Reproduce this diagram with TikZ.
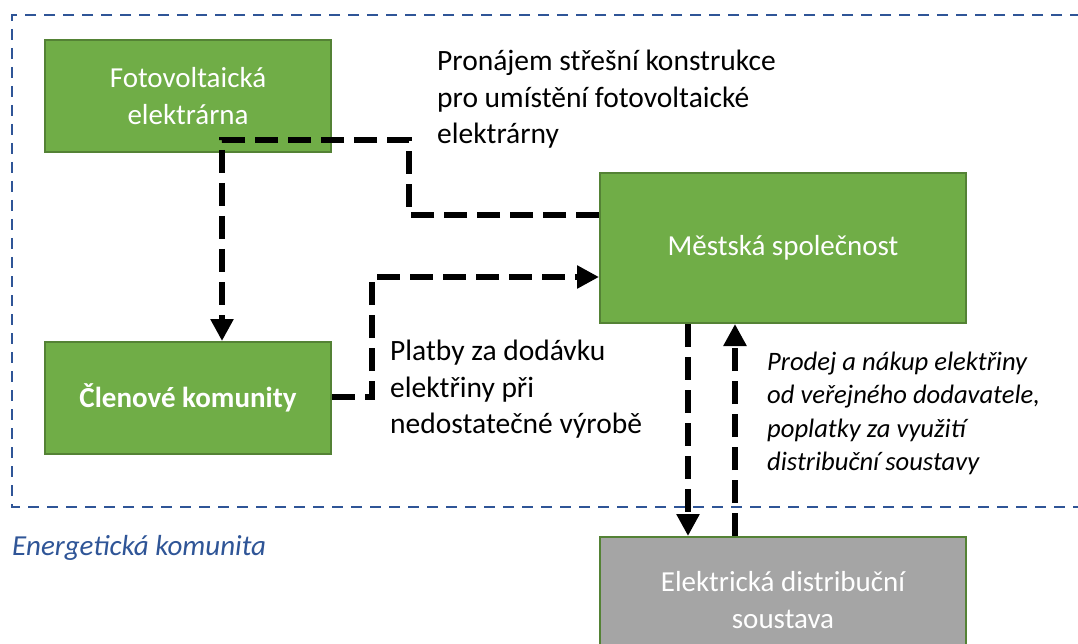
\documentclass[tikz,border=0pt]{standalone}
\usepackage{fontspec}
\setmainfont{Carlito}
\usetikzlibrary{arrows.meta}
\definecolor{boxgreen}{HTML}{70AD47}
\definecolor{boxedge}{HTML}{548235}
\definecolor{boxgray}{HTML}{A5A5A5}
\definecolor{borderblue}{HTML}{2F5597}
\tikzset{
  gbox/.style={draw=boxedge, line width=2pt, fill=boxgreen, text=white, align=center,
    inner sep=0pt, font=\fontsize{29}{36.5}\selectfont},
  graybox/.style={gbox, fill=boxgray},
  flow/.style={line width=6.5pt, dash pattern=on 23pt off 10pt},
  tip/.style={-{Triangle[length=22pt,width=22pt]}},
  lbl/.style={align=left, inner sep=0pt, anchor=north west, font=\fontsize{29.5}{36.5}\selectfont},
  ilbl/.style={align=left, inner sep=0pt, anchor=north west, font=\fontsize{26.6}{33.3}\selectfont\itshape},
  community/.style={draw=borderblue, line width=2pt, dash pattern=on 11pt off 8pt}
}
\begin{document}
\begin{tikzpicture}[x=1pt,y=-1pt]
\useasboundingbox (0,0) rectangle (1078,644);
\clip (0,0) rectangle (1078,644);
\fill[white] (0,0) rectangle (1078,644);
% community border
\draw[community] (1100,15) -- (12,15) -- (12,507) -- (1100,507);
\node[text=borderblue, anchor=north west, inner sep=0pt, font=\fontsize{29}{35}\selectfont\itshape] (ek) at (12,535) {Energetická komunita};
% boxes
\node[gbox, minimum width=286pt, minimum height=112pt] (fve) at (188,96) {Fotovoltaická\\elektrárna};
\node[gbox, minimum width=286pt, minimum height=112pt, font=\fontsize{29}{36.5}\selectfont\bfseries] (clen) at (188,398) {Členové komunity};
\node[gbox, minimum width=366pt, minimum height=150pt] (mesto) at (783,248) {Městská společnost};
\node[graybox, minimum width=366pt, minimum height=126pt] (ds) at (783,600) {Elektrická distribuční\\soustava};
% labels
\node[lbl] (t1) at (437,50) {Pronájem střešní konstrukce\\pro umístění fotovoltaické\\elektrárny};
\node[lbl] (t2) at (390,340) {Platby za dodávku\\elektřiny při\\nedostatečné výrobě};
\node[ilbl] (t3) at (767,352) {Prodej a nákup elektřiny\\od veřejného dodavatele,\\poplatky za využití\\distribuční soustavy};
% connectors
\draw[flow, tip] (mesto.west |- 0,215) -- (409,215) -- (409,140) -- (222,140) -- (clen.north -| 222,0);
\draw[flow, tip] (clen.east |- 0,397) -- (372,397) -- (372,277) -- (mesto.west |- 0,277);
\draw[flow, tip] (mesto.south -| 688,0) -- (ds.north -| 688,0);
\draw[flow, tip] (ds.north -| 735,0) -- (mesto.south -| 735,0);
\end{tikzpicture}
\end{document}
